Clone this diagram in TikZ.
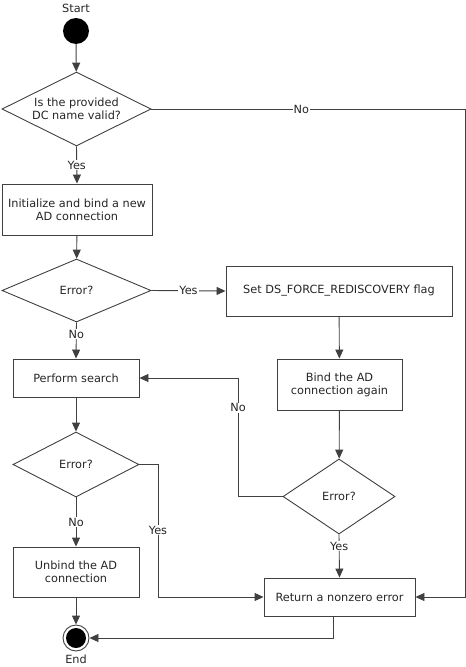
\documentclass[tikz,border=0pt]{standalone}
\usepackage{fontspec}
\setmainfont{DejaVu Sans}
\usetikzlibrary{shapes.geometric,arrows.meta}
\begin{document}
\begin{tikzpicture}[x=1bp,y=-1bp,
  every node/.style={font=\fontsize{11.3bp}{13bp}\selectfont, text=black!85},
  ln/.style={draw=black!75, line width=0.9bp},
  arr/.style={ln, -{Triangle[length=9bp,width=8bp]}},
  box/.style={draw=black!75, line width=0.9bp, rectangle, align=center, inner sep=0pt},
  dec/.style={draw=black!75, line width=0.9bp, diamond, inner sep=0pt},
  lbl/.style={fill=white, inner sep=1bp}
]
\useasboundingbox (0,0) rectangle (466,667);
% nodes
\node (startlbl) at (76,8) {Start};
\node[circle, fill=black, minimum size=26bp, inner sep=0pt] (start) at (76,31) {};
\node[dec, minimum width=149bp, minimum height=74bp,
      label={[align=center]center:Is the provided\\DC name valid?}] (d1) at (76.5,109) {};
\node[box, minimum width=150bp, minimum height=51bp] (b1) at (77,209.5) {Initialize and bind a new\\AD connection};
\node[dec, minimum width=149bp, minimum height=63bp, label=center:Error?] (d2) at (76.5,290.5) {};
\node[box, minimum width=226bp, minimum height=50bp] (b2) at (339,291) {Set DS\_FORCE\_REDISCOVERY flag};
\node[box, minimum width=125bp, minimum height=51bp] (b3) at (339.5,384.5) {Bind the AD\\connection again};
\node[box, minimum width=126bp, minimum height=38bp] (b4) at (76,378) {Perform search};
\node[dec, minimum width=126bp, minimum height=65bp, label=center:Error?] (d3) at (76,464.5) {};
\node[dec, minimum width=112bp, minimum height=75bp, label=center:Error?] (d4) at (339,496.5) {};
\node[box, minimum width=126bp, minimum height=50bp] (b5) at (76,572) {Unbind the AD\\connection};
\node[box, minimum width=151bp, minimum height=38bp] (ret) at (339.5,597) {Return a nonzero error};
\node[circle, draw=black!75, line width=0.9bp, minimum size=26bp, inner sep=0pt,
      path picture={\fill[black] (path picture bounding box.center) circle (10bp);}] (end) at (76,638) {};
\node (endlbl) at (76,659) {End};
% helper coordinates
\coordinate (c1) at (465,109);
\coordinate (c2) at (238,496.5);
\coordinate (c3) at (158,464.5);
\coordinate (c4) at (333,616);
% connectors
\draw[arr] (start) -- (d1);
\draw[arr] (d1.south) -- node[lbl]{Yes} (b1.north);
\draw[arr] (d1.east) -- node[lbl,pos=0.478]{No} (c1) |- (ret.east);
\draw[arr] (b1) -- (d2);
\draw[arr] (d2.east) -- node[lbl]{Yes} (b2.west);
\draw[arr] (b2) -- (b3);
\draw[arr] (b3) -- (d4);
\draw[arr] (d2.south) -- node[lbl,pos=0.32]{No} (b4.north);
\draw[arr] (b4) -- (d3);
\draw[arr] (d4.west) -- (c2) |- node[lbl,pos=0.374]{No} (b4.east);
\draw[arr] (d3.east) -- (c3) |- node[lbl,pos=0.248]{Yes} (ret.west);
\draw[arr] (d3.south) -- node[lbl]{No} (b5.north);
\draw[arr] (d4.south) -- node[lbl,pos=0.27]{Yes} (ret.north);
\draw[arr] (b5) -- (end);
\draw[arr] (c4) |- (end.east);
\end{tikzpicture}
\end{document}
